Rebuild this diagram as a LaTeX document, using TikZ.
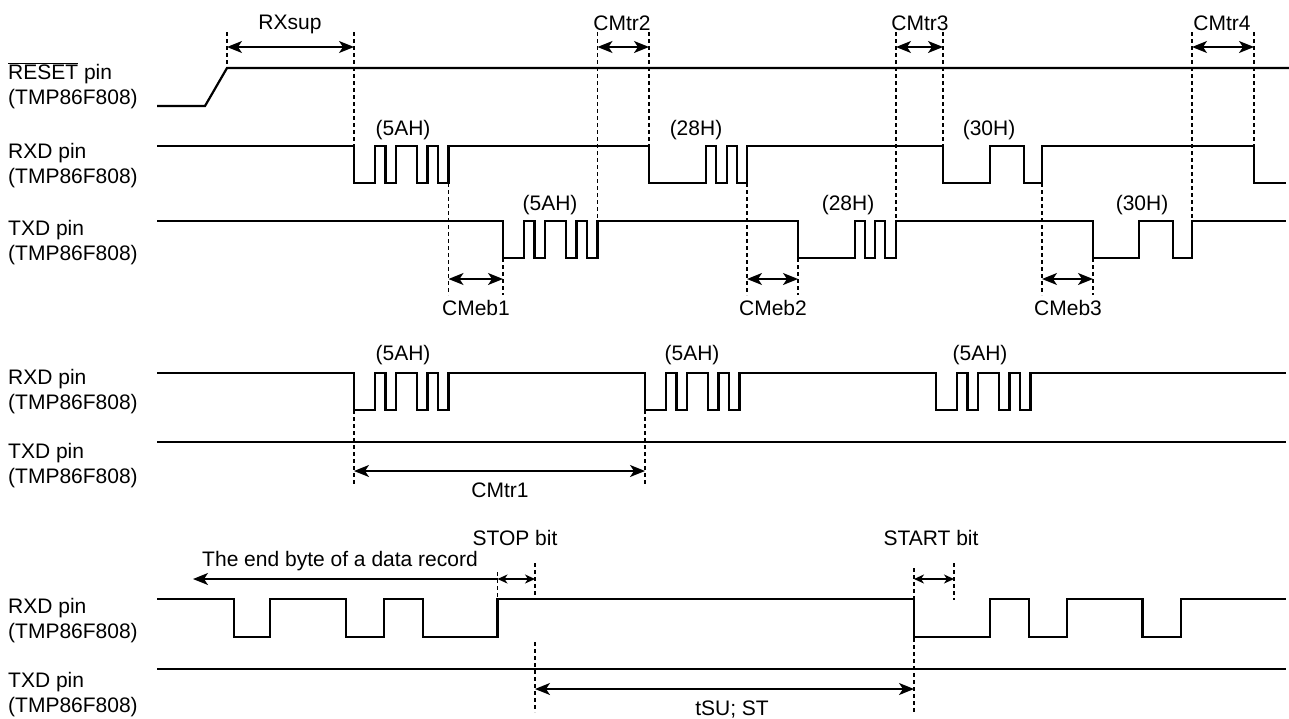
\documentclass[tikz,border=0pt]{standalone}
\usepackage{fontspec}
\setmainfont{Liberation Sans}
\usetikzlibrary{arrows.meta}

\begin{document}
\begin{tikzpicture}[x=1pt,y=-1pt,
	sig/.style={line width=2.2pt},
	guide/.style={line width=1.4pt,dash pattern=on 4pt off 3pt},
	dim/.style={line width=1.6pt,{Stealth[length=15pt,width=12pt,inset=4pt]}-{Stealth[length=15pt,width=12pt,inset=4pt]}},
	dimleft/.style={line width=1.6pt,{Stealth[length=15pt,width=12pt,inset=4pt]}-},
	smalldim/.style={line width=1.6pt,{Stealth[length=10pt,width=9pt,inset=3pt]}-{Stealth[length=10pt,width=9pt,inset=3pt]}},
	pinlbl/.style={anchor=west,align=left},
	every node/.style={font=\fontsize{21}{25.5}\selectfont,inner sep=0pt}]
	\useasboundingbox (0,0) rectangle (1289,718);
	% pin names
	\node[pinlbl] (reset) at (8,86) {$\overline{\mbox{RESET}}$ pin\\(TMP86F808)};
	\node[pinlbl] (rxda) at (8,165.5) {RXD pin\\(TMP86F808)};
	\node[pinlbl] (txda) at (8,242.5) {TXD pin\\(TMP86F808)};
	\node[pinlbl] (rxdb) at (8,391.5) {RXD pin\\(TMP86F808)};
	\node[pinlbl] (txdb) at (8,465.5) {TXD pin\\(TMP86F808)};
	\node[pinlbl] (rxdc) at (8,620.5) {RXD pin\\(TMP86F808)};
	\node[pinlbl] (txdc) at (8,694.5) {TXD pin\\(TMP86F808)};
	% first diagram
	\draw[sig] (157,106) -- (205,106) -- (227,68) -- (1289,68);
	\draw[sig] (157,146) -- (354,146) |- (375,183) |- (385.5,146) |- (396,183) |- (417,146) |- (427.5,183) |- (438,146) |- (448.5,183)
		|- (649,146) |- (706,183) |- (716,146) |- (727,183) |- (737,146) |- (747,183)
		|- (943,146) |- (990,183) |- (1024,146) |- (1042,183) |- (1254,146) |- (1286,183);
	\draw[sig] (157,221) -- (503,221) |- (524,258) |- (534.5,221) |- (545,258) |- (566,221) |- (576.5,258) |- (587,221) |- (597.5,258)
		|- (798,221) |- (855,258) |- (865,221) |- (875,258) |- (885,221) |- (896,258)
		|- (1093,221) |- (1139,258) |- (1173,221) |- (1192,258) |- (1286,221);
	\draw[guide] (227,32) -- (227,68);
	\draw[guide] (354,32) -- (354,146);
	\draw[guide] (597.5,32) -- (597.5,221);
	\draw[guide] (649,32) -- (649,146);
	\draw[guide] (896,32) -- (896,221);
	\draw[guide] (943,32) -- (943,146);
	\draw[guide] (1192,32) -- (1192,221);
	\draw[guide] (1254,32) -- (1254,146);
	\draw[dim] (227,47) -- (354,47);
	\draw[dim] (597.5,47) -- (649,47);
	\draw[dim] (896,47) -- (943,47);
	\draw[dim] (1192,47) -- (1254,47);
	\node (rxsup) at (290,24) {RXsup};
	\node (cmtr2) at (622,23) {CMtr2};
	\node (cmtr3) at (920,23) {CMtr3};
	\node (cmtr4) at (1222,23) {CMtr4};
	\node (rx5a) at (403,130) {(5AH)};
	\node (rx28) at (696,130) {(28H)};
	\node (rx30) at (989,130) {(30H)};
	\node (tx5a) at (550,205) {(5AH)};
	\node (tx28) at (848,205) {(28H)};
	\node (tx30) at (1142,205) {(30H)};
	\draw[guide] (448.5,183) -- (448.5,295);
	\draw[guide] (503,258) -- (503,295);
	\draw[guide] (747,183) -- (747,295);
	\draw[guide] (798,258) -- (798,295);
	\draw[guide] (1042,183) -- (1042,295);
	\draw[guide] (1093,258) -- (1093,295);
	\draw[dim] (448.5,279) -- (503,279);
	\draw[dim] (747,279) -- (798,279);
	\draw[dim] (1042,279) -- (1093,279);
	\node (cmeb1) at (476,308) {CMeb1};
	\node (cmeb2) at (773,308) {CMeb2};
	\node (cmeb3) at (1068,308) {CMeb3};
	% second diagram
	\draw[sig] (157,373) -- (354,373) |- (375,410) |- (385.5,373) |- (396,410) |- (417,373) |- (427.5,410) |- (438,373) |- (448.5,410)
		|- (645,373) |- (666,410) |- (676.5,373) |- (687,410) |- (708,373) |- (718.5,410) |- (729,373) |- (739.5,410)
		|- (936,373) |- (957,410) |- (967.5,373) |- (978,410) |- (999,373) |- (1009.5,410) |- (1020,373) |- (1030.5,410) |- (1286,373);
	\draw[sig] (157,442) -- (1286,442);
	\draw[guide] (354,410) -- (354,485);
	\draw[guide] (645,410) -- (645,485);
	\draw[dim] (354,471) -- (645,471);
	\node (rx5aa) at (403,355) {(5AH)};
	\node (rx5ab) at (692,355) {(5AH)};
	\node (rx5ac) at (980,355) {(5AH)};
	\node (cmtr1) at (500,490) {CMtr1};
	% third diagram
	\draw[sig] (157,599) -- (234,599) |- (270,637) |- (346,599) |- (384,637) |- (423,599) |- (497.5,637)
		|- (914,599) |- (990,637) |- (1029,599) |- (1067,637) |- (1142.5,599) |- (1181,637) |- (1286,599);
	\draw[sig] (157,669) -- (1286,669);
	\draw[guide] (497.5,572) -- (497.5,599);
	\draw[guide] (535,563) -- (535,599);
	\draw[guide] (535,642) -- (535,712);
	\draw[guide] (914,568) -- (914,712);
	\draw[guide] (954,563) -- (954,600);
	\draw[dimleft] (193,579) -- (497.5,579);
	\draw[smalldim] (497.5,579) -- (535,579);
	\draw[smalldim] (914,579) -- (954,579);
	\draw[dim] (535,689) -- (914,689);
	\node (endbyte) at (340,561) {The end byte of a data record};
	\node (stopbit) at (515,538) {STOP bit};
	\node (startbit) at (931,538) {START bit};
	\node (tsust) at (732,709) {tSU; ST};
\end{tikzpicture}
\end{document}
